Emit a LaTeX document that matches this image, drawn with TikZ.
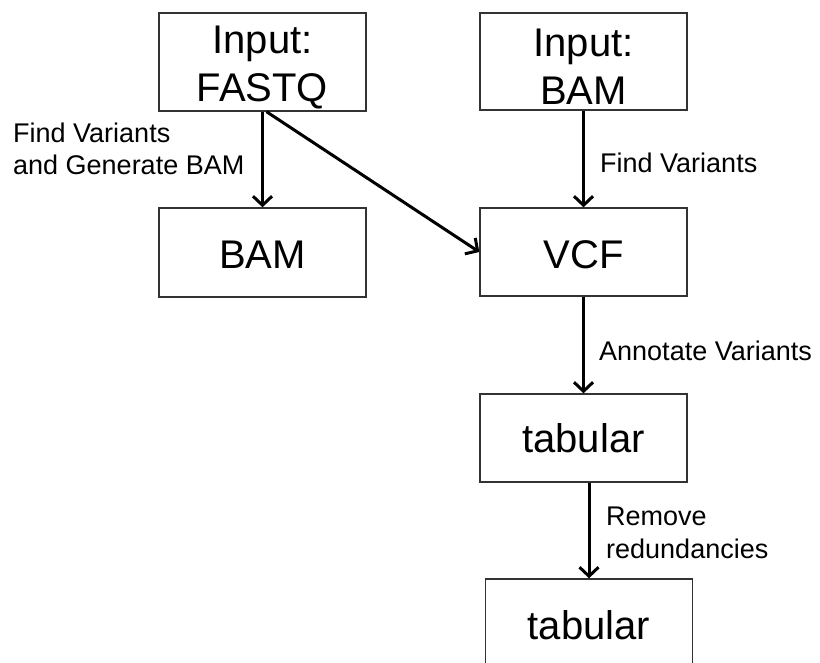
\documentclass[tikz,border=0pt]{standalone}
\usepackage{fontspec}
\setmainfont{Liberation Sans}
\usetikzlibrary{arrows.meta}
\begin{document}
\begin{tikzpicture}[x=1pt,y=-1pt,
  box/.style={draw=black!80,line width=1.4pt,minimum width=207pt,inner sep=0pt,
    align=center,font=\fontsize{40}{48}\selectfont},
  conn/.style={line width=3pt,-{Straight Barb[length=9pt,width=19pt,line width=3pt]}},
  lbl/.style={inner sep=0pt,align=left,font=\fontsize{27}{32.5}\selectfont,anchor=base west}]
\useasboundingbox (0,0) rectangle (820,663);
\clip (0,0) rectangle (820,663);
\node[box,minimum height=98pt] (fastq) at (262.5,62) {\rule{0pt}{38pt}Input:\\FASTQ};
\node[box,minimum height=97pt] (inbam) at (583.5,61.5) {\rule{0pt}{38pt}Input:\\BAM};
\node[box,minimum height=89pt] (bam) at (262.5,252.5) {\rule{0pt}{33pt}BAM};
\node[box,minimum height=88pt] (vcf) at (583.5,252) {\rule{0pt}{33pt}VCF};
\node[box,minimum height=88pt] (tab1) at (583.5,438) {tabular};
\node[box,minimum height=92pt] (tab2) at (589,625) {tabular};
\draw[conn] (fastq.south) -- (bam.north);
\draw[conn] ([xshift=4pt]fastq.south) -- (vcf.west);
\draw[conn] (inbam.south) -- (vcf.north);
\draw[conn] (vcf.south) -- (tab1.north);
\draw[conn] (tab1.south -| tab2.north) -- (tab2.north);
\node[lbl] (l1) at (13,175) {Find Variants\\and Generate BAM};
\node[lbl] (l2) at (600,173) {Find Variants};
\node[lbl] (l3) at (599,360) {Annotate Variants};
\node[lbl] (l4) at (606,558) {Remove\\redundancies};
\end{tikzpicture}
\end{document}
